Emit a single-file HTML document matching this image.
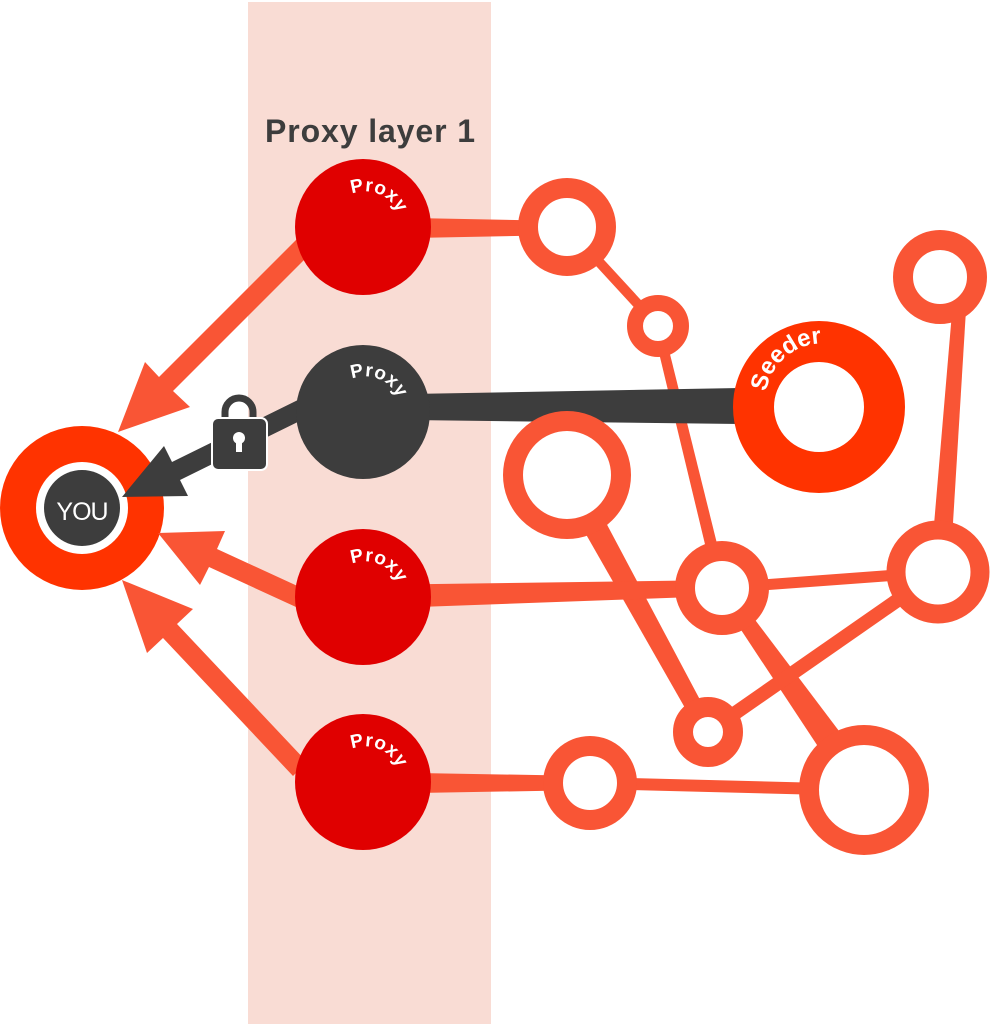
<!DOCTYPE html>
<html><head><meta charset="utf-8"><style>
html,body{margin:0;padding:0;background:#fff;}
svg{display:block;}
</style></head><body>
<svg width="991" height="1024" viewBox="0 0 991 1024" xmlns="http://www.w3.org/2000/svg">
<rect x="248" y="2" width="243" height="1022" fill="#f9dcd4"/>
<text x="265" y="142" font-family="Liberation Sans, sans-serif" font-weight="bold" font-size="32" fill="#3d3d3d" textLength="210">Proxy layer 1</text>

<g stroke="#f95535" fill="none">
<polygon points="363,217 567,221 567,235 363,239" fill="#f95535" stroke="none"/>
<line x1="567" y1="227" x2="658" y2="326" stroke-width="10"/>
<polygon points="653,328 663,326 728,588 716,590" fill="#f95535" stroke="none"/>
<polygon points="955,277 968,277 950,572 930,572" fill="#f95535" stroke="none"/>
<polygon points="555,480 578,470 715,728 701,736" fill="#f95535" stroke="none"/>
<line x1="722" y1="588" x2="938" y2="572" stroke-width="11"/>
<polygon points="716,592 728,584 876,780 852,798" fill="#f95535" stroke="none"/>
<line x1="708" y1="732" x2="938" y2="572" stroke-width="14"/>
<polygon points="363,585 722,580 722,596 363,609" fill="#f95535" stroke="none"/>
<polygon points="363,772 590,776 590,790 363,794" fill="#f95535" stroke="none"/>
<line x1="590" y1="783" x2="864" y2="790" stroke-width="12"/>
</g>

<!-- YOU -->
<circle cx="82" cy="508" r="82" fill="#ff3300"/>
<circle cx="82" cy="508" r="46" fill="#fff"/>
<circle cx="82" cy="508" r="38" fill="#3d3d3d"/>
<text x="82" y="520" text-anchor="middle" font-family="Liberation Sans, sans-serif" font-size="25" fill="#fff" letter-spacing="-1">YOU</text>

<!-- arrows -->
<polygon points="118,432 145,362 159,377 298,238 312,252 173,391 190,407" fill="#f95535"/>
<polygon points="158,533 225,531 217,549 304,589 296,607 209,567 200,585" fill="#f95535"/>
<polygon points="122,580 193,609 177,624 307,762 293,776 163,638 147,653" fill="#f95535"/>
<polygon points="122,497 164,446 172,462 306,396 314,414 180,480 188,496" fill="#3d3d3d"/>
<!-- dark link to seeder -->
<polygon points="410,394 740,388 740,424 410,420" fill="#3d3d3d"/>

<!-- lock -->
<path d="M225,420 V412 A14,14 0 0 1 253,412 V420" fill="none" stroke="#3d3d3d" stroke-width="7"/>
<rect x="212" y="418" width="55" height="52" rx="6" fill="#3d3d3d" stroke="#fff" stroke-width="2"/>
<circle cx="239" cy="438" r="6" fill="#fff"/>
<rect x="236" y="440" width="6" height="12" fill="#fff"/>

<!-- ring nodes -->
<g fill="#fff" stroke="#f95535">
<circle cx="567" cy="227" r="39" stroke-width="20"/>
<circle cx="658" cy="326" r="23" stroke-width="16"/>
<circle cx="940" cy="277" r="37" stroke-width="20"/>
<circle cx="567" cy="475" r="54" stroke-width="20"/>
<circle cx="722" cy="588" r="37" stroke-width="20"/>
<circle cx="938" cy="572" r="42" stroke-width="19"/>
<circle cx="708" cy="732" r="25" stroke-width="20"/>
<circle cx="590" cy="783" r="37" stroke-width="20"/>
<circle cx="864" cy="790" r="55" stroke-width="20"/>
</g>

<!-- seeder -->
<circle cx="819" cy="407" r="65.5" fill="#fff" stroke="#ff3300" stroke-width="41"/>
<path id="sarc" d="M766,392 A58,58 0 0 1 875,375" fill="none"/>
<text font-family="Liberation Sans, sans-serif" font-weight="bold" font-size="24" fill="#fff"><textPath href="#sarc">Seeder</textPath></text>

<!-- proxies -->
<g font-family="Liberation Sans, sans-serif" font-weight="bold" font-size="19" fill="#fff" letter-spacing="0.5">
<circle cx="363" cy="227" r="68" fill="#e00000"/>
<path id="a1" d="M352,194 A35,35 0 0 1 400,232" fill="none"/>
<text><textPath href="#a1">Proxy</textPath></text>

<circle cx="363" cy="412" r="67" fill="#3d3d3d"/>
<path id="a2" d="M352,379 A35,35 0 0 1 400,417" fill="none"/>
<text><textPath href="#a2">Proxy</textPath></text>

<circle cx="363" cy="597" r="68" fill="#e00000"/>
<path id="a3" d="M352,564 A35,35 0 0 1 400,602" fill="none"/>
<text><textPath href="#a3">Proxy</textPath></text>

<circle cx="363" cy="782" r="68" fill="#e00000"/>
<path id="a4" d="M352,749 A35,35 0 0 1 400,787" fill="none"/>
<text><textPath href="#a4">Proxy</textPath></text>
</g>
</svg>
</body></html>
